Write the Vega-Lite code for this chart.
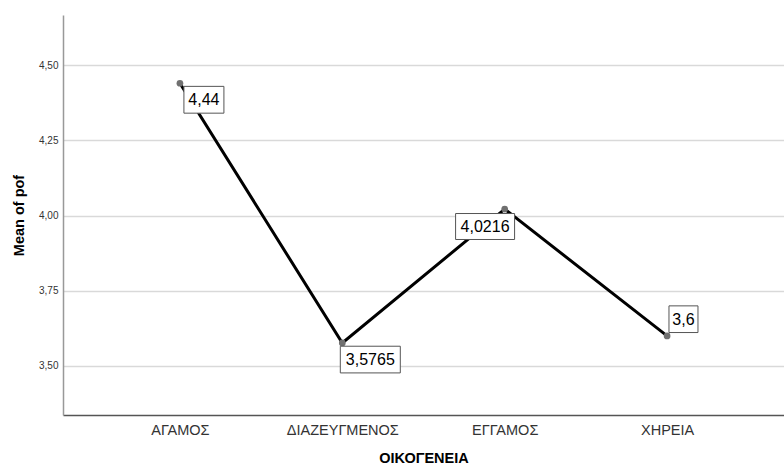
{
  "$schema": "https://vega.github.io/schema/vega-lite/v6.json",
  "width": 721,
  "height": 400,
  "autosize": {"type": "none"},
  "padding": {"left": 63, "top": 15, "right": 0, "bottom": 52},
  "background": "white",
  "config": {
    "view": {"stroke": null},
    "font": "Liberation Sans"
  },
  "data": {
    "values": [
      {"group": "ΑΓΑΜΟΣ", "mean": 4.44, "label": "4,44"},
      {"group": "ΔΙΑΖΕΥΓΜΕΝΟΣ", "mean": 3.5765, "label": "3,5765"},
      {"group": "ΕΓΓΑΜΟΣ", "mean": 4.0216, "label": "4,0216"},
      {"group": "ΧΗΡΕΙΑ", "mean": 3.6, "label": "3,6"}
    ]
  },
  "encoding": {
    "x": {
      "field": "group",
      "type": "nominal",
      "sort": ["ΑΓΑΜΟΣ", "ΔΙΑΖΕΥΓΜΕΝΟΣ", "ΕΓΓΑΜΟΣ", "ΧΗΡΕΙΑ"],
      "scale": {"type": "point", "padding": 0.72},
      "axis": {
        "title": "ΟΙΚΟΓΕΝΕΙΑ",
        "titleFont": "Liberation Sans",
        "titleFontSize": 14.5,
        "titleFontWeight": "bold",
        "titleColor": "#000000",
        "titlePadding": 15,
        "labelAngle": 0,
        "labelFont": "Liberation Sans",
        "labelFontSize": 14.5,
        "labelColor": "#333333",
        "labelPadding": 8,
        "ticks": false,
        "domainColor": "#555555",
        "domainWidth": 1.5,
        "grid": false
      }
    },
    "y": {
      "field": "mean",
      "type": "quantitative",
      "scale": {"domain": [3.337, 4.667], "nice": false, "zero": false},
      "axis": {
        "title": "Mean of pof",
        "titleFont": "Liberation Sans",
        "titleFontSize": 14.5,
        "titleFontWeight": "bold",
        "titleColor": "#000000",
        "titlePadding": 12,
        "values": [3.5, 3.75, 4.0, 4.25, 4.5],
        "labelExpr": "replace(format(datum.value, '.2f'), '.', ',')",
        "labelFont": "Liberation Sans",
        "labelFontSize": 10,
        "labelColor": "#333333",
        "labelPadding": 5,
        "ticks": false,
        "domainColor": "#999999",
        "domainWidth": 1.5,
        "grid": true,
        "gridColor": "#d9d9d9",
        "gridWidth": 1.5
      }
    }
  },
  "layer": [
    {"mark": {"type": "line", "color": "#000000", "strokeWidth": 3}},
    {"mark": {"type": "point", "filled": true, "color": "#707070", "opacity": 1, "size": 45}},
    {
      "transform": [{"filter": "datum.group == 'ΑΓΑΜΟΣ'"}],
      "mark": {"type": "point", "shape": "M-1,-0.67L1,-0.67L1,0.67L-1,0.67Z", "size": 1600, "filled": true, "fill": "white", "fillOpacity": 1, "stroke": "#555555", "strokeWidth": 1, "opacity": 1, "xOffset": 24, "yOffset": 16.5}
    },
    {
      "transform": [{"filter": "datum.group == 'ΑΓΑΜΟΣ'"}],
      "mark": {"type": "text", "fontSize": 16, "color": "#000000", "dx": 24, "dy": 17, "align": "center", "baseline": "middle"},
      "encoding": {"text": {"field": "label"}}
    },
    {
      "transform": [{"filter": "datum.group == 'ΔΙΑΖΕΥΓΜΕΝΟΣ'"}],
      "mark": {"type": "point", "shape": "M-1,-0.445L1,-0.445L1,0.445L-1,0.445Z", "size": 3600, "filled": true, "fill": "white", "fillOpacity": 1, "stroke": "#555555", "strokeWidth": 1, "opacity": 1, "xOffset": 28, "yOffset": 16.6}
    },
    {
      "transform": [{"filter": "datum.group == 'ΔΙΑΖΕΥΓΜΕΝΟΣ'"}],
      "mark": {"type": "text", "fontSize": 16, "color": "#000000", "dx": 28, "dy": 17, "align": "center", "baseline": "middle"},
      "encoding": {"text": {"field": "label"}}
    },
    {
      "transform": [{"filter": "datum.group == 'ΕΓΓΑΜΟΣ'"}],
      "mark": {"type": "point", "shape": "M-1,-0.44L1,-0.44L1,0.44L-1,0.44Z", "size": 3481, "filled": true, "fill": "white", "fillOpacity": 1, "stroke": "#555555", "strokeWidth": 1, "opacity": 1, "xOffset": -19.6, "yOffset": 17.4}
    },
    {
      "transform": [{"filter": "datum.group == 'ΕΓΓΑΜΟΣ'"}],
      "mark": {"type": "text", "fontSize": 16, "color": "#000000", "dx": -19.6, "dy": 18, "align": "center", "baseline": "middle"},
      "encoding": {"text": {"field": "label"}}
    },
    {
      "transform": [{"filter": "datum.group == 'ΧΗΡΕΙΑ'"}],
      "mark": {"type": "point", "shape": "M-1,-0.92L1,-0.92L1,0.92L-1,0.92Z", "size": 841, "filled": true, "fill": "white", "fillOpacity": 1, "stroke": "#555555", "strokeWidth": 1, "opacity": 1, "xOffset": 16.4, "yOffset": -16.7}
    },
    {
      "transform": [{"filter": "datum.group == 'ΧΗΡΕΙΑ'"}],
      "mark": {"type": "text", "fontSize": 16, "color": "#000000", "dx": 16.4, "dy": -16, "align": "center", "baseline": "middle"},
      "encoding": {"text": {"field": "label"}}
    }
  ]
}
